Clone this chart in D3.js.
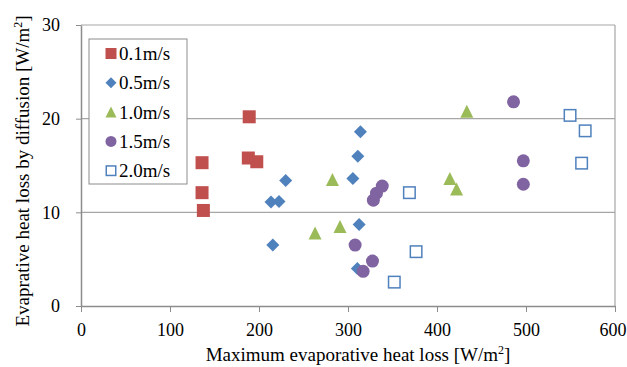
<!DOCTYPE html>
<html>
<head>
<meta charset="utf-8">
<script src="https://cdn.jsdelivr.net/npm/d3@7"></script>
<style>
  body { margin: 0; background: #fff; }
  svg text { font-family: "Liberation Serif", "Times New Roman", serif; fill: #000; }
</style>
</head>
<body>
<div id="chart"></div>
<script>
// series: [max evaporative heat loss, heat loss by diffusion]
const s01 = [[136, 15.3], [136, 12.1], [137.5, 10.2], [188, 15.8], [197.5, 15.4], [189, 20.2]];
const s05 = [[230, 13.4], [213.5, 11.1], [222.5, 11.15], [215.5, 6.5], [305.5, 13.6],
             [314, 18.6], [311, 16.0], [312.5, 8.7], [310.5, 4.0]];
const s10 = [[263, 7.8], [291, 8.5], [282.5, 13.5], [414.5, 13.6], [422, 12.5], [433.5, 20.8]];
const s15 = [[486, 21.8], [497, 15.5], [497, 13.0], [338.5, 12.8], [332, 12.05], [328.5, 11.3],
             [308, 6.5], [327.5, 4.8], [317, 3.7]];
const s20 = [[549.5, 20.35], [566.5, 18.7], [562.5, 15.25], [369, 12.1], [376.5, 5.8], [352, 2.55]];

const seriesNames = ["0.1m/s", "0.5m/s", "1.0m/s", "1.5m/s", "2.0m/s"];
const xTicks = [0, 100, 200, 300, 400, 500, 600];
const yTicks = [0, 10, 20, 30];

const width = 627, height = 367;
const margin = { top: 25, right: 12, bottom: 61, left: 81 };

const series = [
  { name: seriesNames[0], data: s01, shape: "square", color: "#C0504D" },
  { name: seriesNames[1], data: s05, shape: "diamond", color: "#4F81BD" },
  { name: seriesNames[2], data: s10, shape: "triangle", color: "#9BBB59" },
  { name: seriesNames[3], data: s15, shape: "circle", color: "#8064A2" },
  { name: seriesNames[4], data: s20, shape: "open", color: "#4F81BD" }
];

const svg = d3.select("#chart").append("svg")
  .attr("width", width)
  .attr("height", height);

const x = d3.scaleLinear().domain([0, 600]).range([margin.left, width - margin.right]);
const y = d3.scaleLinear().domain([0, 30]).range([height - margin.bottom, margin.top]);

// gridlines (incl. top border)
svg.append("g")
  .selectAll("line")
  .data(yTicks.filter(d => d > 0))
  .join("line")
  .attr("x1", x(0)).attr("x2", x(600))
  .attr("y1", d => y(d)).attr("y2", d => y(d))
  .attr("stroke", "#a6a6a6")
  .attr("stroke-width", 1.2);

// right border
svg.append("line")
  .attr("x1", x(600)).attr("x2", x(600))
  .attr("y1", y(0)).attr("y2", y(30))
  .attr("stroke", "#a6a6a6").attr("stroke-width", 1.2);

const xAxis = d3.axisBottom(x).tickValues(xTicks).tickSize(6).tickSizeOuter(0);
const yAxis = d3.axisLeft(y).tickValues(yTicks).tickSize(5).tickSizeOuter(0);

const gx = svg.append("g")
  .attr("transform", `translate(0,${y(0)})`)
  .call(xAxis);
gx.attr("font-family", null);
gx.select(".domain").attr("stroke", "#8c8c8c").attr("stroke-width", 1.5);
gx.selectAll(".tick line").attr("stroke", "#8c8c8c");
gx.selectAll(".tick text").attr("font-size", 18).attr("y", 9).attr("dy", "1.18em");
// last label sits against the right edge, as in the original
gx.selectAll(".tick text").filter(d => d === 600)
  .attr("text-anchor", "end").attr("x", width - 1 - x(600));

const gy = svg.append("g")
  .attr("transform", `translate(${x(0)},0)`)
  .call(yAxis);
gy.attr("font-family", null);
gy.select(".domain").attr("stroke", "#8c8c8c").attr("stroke-width", 1.5);
gy.selectAll(".tick line").attr("stroke", "#8c8c8c");
gy.selectAll(".tick text").attr("font-size", 18).attr("x", -21);

function marker(g, shape, color, r) {
  if (shape === "square") {
    g.append("rect").attr("x", -r).attr("y", -r).attr("width", 2 * r).attr("height", 2 * r)
      .attr("fill", color);
  } else if (shape === "diamond") {
    g.append("path").attr("d", `M0,${-r}L${r},0L0,${r}L${-r},0Z`).attr("fill", color);
  } else if (shape === "triangle") {
    g.append("path").attr("d", `M0,${-r}L${r},${r}L${-r},${r}Z`).attr("fill", color);
  } else if (shape === "circle") {
    g.append("circle").attr("r", r).attr("fill", color);
  } else {
    g.append("rect").attr("x", -r + 0.75).attr("y", -r + 0.75)
      .attr("width", 2 * r - 1.5).attr("height", 2 * r - 1.5)
      .attr("fill", "#fff").attr("stroke", color).attr("stroke-width", 1.5);
  }
}

// points
series.forEach(s => {
  svg.append("g")
    .selectAll("g")
    .data(s.data)
    .join("g")
    .attr("transform", d => `translate(${x(d[0])},${y(d[1])})`)
    .each(function () { marker(d3.select(this), s.shape, s.color, 6.5); });
});

// legend
const legend = svg.append("g").attr("transform", "translate(89,39)");
legend.append("rect")
  .attr("width", 98).attr("height", 145)
  .attr("fill", "#fff").attr("stroke", "#8c8c8c").attr("stroke-width", 1);
series.forEach((s, i) => {
  const row = legend.append("g").attr("transform", `translate(22,${14.5 + i * 29.3})`);
  marker(row, s.shape, s.color, 5.5);
  row.append("text")
    .attr("x", 8).attr("y", 6.5)
    .attr("font-size", 19)
    .text(s.name);
});

// axis titles
const xt = svg.append("text")
  .attr("x", 358).attr("y", 361)
  .attr("text-anchor", "middle")
  .attr("font-size", 19);
xt.append("tspan").text("Maximum evaporative heat loss [W/m");
xt.append("tspan").attr("font-size", 12).attr("dy", -7).text("2");
xt.append("tspan").attr("dy", 7).text("]");

const yt = svg.append("text")
  .attr("transform", "translate(29,171) rotate(-90)")
  .attr("text-anchor", "middle")
  .attr("font-size", 19);
yt.append("tspan").text("Evaprative heat loss by diffusion [W/m");
yt.append("tspan").attr("font-size", 12).attr("dy", -7).text("2");
yt.append("tspan").attr("dy", 7).text("]");
</script>
</body>
</html>
